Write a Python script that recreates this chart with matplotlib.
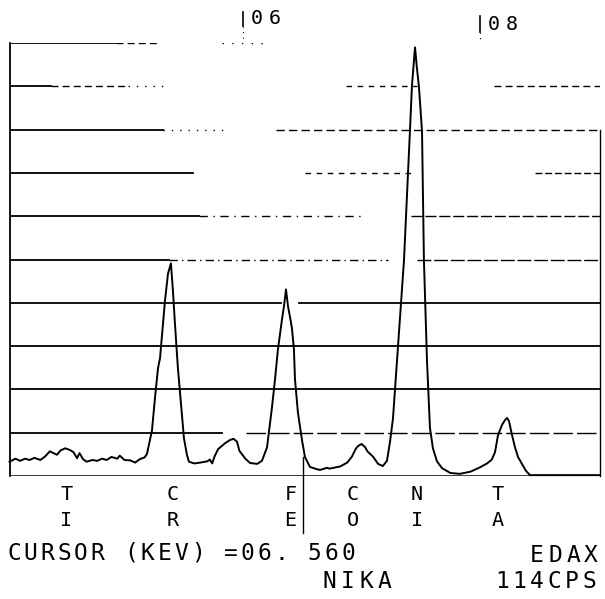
import numpy as np
import matplotlib
matplotlib.use('Agg')
from matplotlib import pyplot as plt
from matplotlib import transforms

W, H = 605, 599  # output size in px

# spectrum trace (keV, intensity in grid divisions)
energy_kev = [4.03, 4.08, 4.12, 4.16, 4.20, 4.24, 4.29, 4.33, 4.37, 4.40,
              4.43, 4.46, 4.50, 4.54, 4.57, 4.60, 4.62, 4.65, 4.68, 4.73,
              4.77, 4.81, 4.85, 4.89, 4.94, 4.96, 5.00, 5.05, 5.09, 5.13,
              5.17, 5.190, 5.232, 5.257, 5.283, 5.300, 5.325, 5.342, 5.367, 5.392,
              5.409, 5.426, 5.451, 5.485, 5.502, 5.527, 5.544, 5.59, 5.64, 5.70,
              5.72, 5.74, 5.76, 5.79, 5.82, 5.85, 5.89, 5.92, 5.95, 5.97,
              6.02, 6.06, 6.12, 6.160, 6.203, 6.245, 6.270, 6.295, 6.329, 6.346,
              6.363, 6.380, 6.405, 6.414, 6.430, 6.439, 6.464, 6.498, 6.523, 6.565,
              6.62, 6.65, 6.71, 6.73, 6.82, 6.88, 6.92, 6.95, 6.97, 7.00,
              7.03, 7.05, 7.10, 7.14, 7.18, 7.215, 7.241, 7.266, 7.300, 7.325,
              7.359, 7.384, 7.409, 7.426, 7.452, 7.468, 7.485, 7.511, 7.527, 7.553,
              7.578, 7.603, 7.637, 7.68, 7.75, 7.83, 7.92, 8.00, 8.06, 8.10,
              8.127, 8.152, 8.186, 8.211, 8.228, 8.245, 8.270, 8.295, 8.321, 8.354,
              8.388, 8.422, 9.01]
counts_div = [0.33, 0.40, 0.35, 0.40, 0.37, 0.42, 0.37, 0.45, 0.57, 0.53,
              0.49, 0.59, 0.64, 0.60, 0.55, 0.41, 0.53, 0.39, 0.33, 0.37,
              0.35, 0.40, 0.37, 0.44, 0.40, 0.47, 0.37, 0.36, 0.31, 0.39,
              0.43, 0.51, 1.05, 1.79, 2.49, 2.72, 3.51, 4.05, 4.67, 4.91,
              4.28, 3.52, 2.49, 1.42, 0.87, 0.49, 0.33, 0.29, 0.31, 0.34,
              0.38, 0.29, 0.45, 0.62, 0.69, 0.76, 0.83, 0.86, 0.79, 0.58,
              0.40, 0.30, 0.28, 0.35, 0.66, 1.59, 2.22, 2.92, 3.61, 3.92,
              4.31, 3.92, 3.55, 3.39, 2.93, 2.23, 1.46, 0.83, 0.44, 0.21,
              0.16, 0.14, 0.19, 0.17, 0.22, 0.31, 0.45, 0.62, 0.69, 0.74,
              0.67, 0.57, 0.44, 0.28, 0.23, 0.35, 0.79, 1.33, 2.65, 3.65,
              4.99, 6.45, 7.96, 9.01, 9.90, 9.42, 8.99, 7.96, 4.99, 2.66,
              1.11, 0.64, 0.34, 0.18, 0.07, 0.05, 0.10, 0.20, 0.29, 0.38,
              0.55, 0.94, 1.18, 1.29, 1.34, 1.27, 0.95, 0.67, 0.44, 0.28,
              0.12, 0.02, 0.02]

# element markers under the spectrum
line_kev = [4.51, 5.41, 6.40, 6.93, 7.47, 8.15]
line_top = ['T', 'C', 'F', 'C', 'N', 'T']
line_bot = ['I', 'R', 'E', 'O', 'I', 'A']

marker_kev = [6, 8]
marker_text = ['06', '08']
cursor_kev = 6.51
cursor_text = 'CURSOR (KEV) =06. 560'
n_div = 10

# dash layout of the horizontal grid (axes fractions), as plotted
grid_segments = {
    10: [(0.0, 0.18, '-'), (0.18, 0.25, (0, (5, 3))), (0.36, 0.44, (0, (1, 6)))],
    9: [(0.0, 0.07, '-'), (0.07, 0.20, (0, (5, 3))), (0.20, 0.26, (0, (1, 5))),
        (0.57, 0.69, (0, (4, 4))), (0.82, 1.0, (0, (5, 3)))],
    8: [(0.0, 0.26, '-'), (0.26, 0.37, (0, (1, 5))), (0.45, 1.0, (0, (6, 3)))],
    7: [(0.0, 0.31, '-'), (0.50, 0.68, (0, (4, 4))), (0.89, 1.0, (0, (5, 2)))],
    6: [(0.0, 0.32, '-'), (0.32, 0.60, (0, (6, 4, 1, 4))), (0.68, 1.0, (0, (8, 2)))],
    5: [(0.0, 0.27, '-'), (0.27, 0.64, (0, (6, 3, 1, 3))), (0.69, 1.0, (0, (10, 2)))],
    4: [(0.0, 0.46, '-'), (0.49, 1.0, '-')],
    3: [(0.0, 1.0, '-')],
    2: [(0.0, 1.0, '-')],
    1: [(0.0, 0.36, '-'), (0.40, 1.0, (0, (14, 3)))],
}

mono = 'DejaVu Sans Mono'


def spaced_text(fig, x_px, y_px, s, pitch, size):
    # plotter text: fixed pitch, one glyph at a time
    for i, ch in enumerate(s):
        if ch == ' ':
            continue
        fig.text((x_px + i * pitch) / W, 1 - y_px / H, ch, ha='center', va='center',
                 family=mono, fontsize=size, color='black')


fig = plt.figure(figsize=(W / 100, H / 100), dpi=100)
fig.patch.set_facecolor('white')
ax = fig.add_axes([10 / W, 1 - 476 / H, 590 / W, (476 - 43) / H])
ax.set_xlim(4.034, 9.013)
ax.set_ylim(0, n_div)
ax.axis('off')

# frame
x0, x1 = ax.get_xlim()
ax.plot([x0, x0], [0, n_div], color='black', lw=1.3, clip_on=False)
ax.plot([x1, x1], [0, 8], color='black', lw=1.0, clip_on=False)
ax.axhline(0, color='black', lw=1.8)

for lvl, segs in grid_segments.items():
    for f0, f1, ls in segs:
        ax.axhline(lvl, f0, f1, color='black', ls=ls, lw=1.3 if ls == '-' else 1.0)

# spectrum
ax.plot(energy_kev, counts_div, color='black', lw=1.4, clip_on=False)

blend = transforms.blended_transform_factory(ax.transData, fig.transFigure)

# energy markers on top
bar_px = [(12, 26), (16, 32)]
for e, txt, (ya, yb) in zip(marker_kev, marker_text, bar_px):
    ax.plot([e, e], [1 - ya / H, 1 - yb / H], color='black', lw=1.2,
            transform=blend, clip_on=False)
    ax.plot([e, e], [1 - yb / H, 1 - 42 / H], color='black', lw=0.8,
            ls=(0, (1, 4)), transform=blend, clip_on=False)
    xe = ax.transData.transform((e, 0))[0]
    spaced_text(fig, xe + 14, (ya + yb) / 2, txt, 18, 14.5)

# cursor
ax.plot([cursor_kev, cursor_kev], [1 - 457 / H, 1 - 533 / H], color='black',
        lw=1.0, transform=blend, clip_on=False)

# element labels
for e, a, b in zip(line_kev, line_top, line_bot):
    ax.text(e, 1 - 494 / H, a, transform=blend, ha='center', va='center',
            family=mono, fontsize=14.5)
    ax.text(e, 1 - 520 / H, b, transform=blend, ha='center', va='center',
            family=mono, fontsize=14.5)

spaced_text(fig, 14, 553, cursor_text, 16.7, 16.5)
spaced_text(fig, 537, 556, 'EDAX', 18, 16.5)
spaced_text(fig, 329, 582, 'NIKA', 18.5, 16.5)
spaced_text(fig, 502, 582, '114CPS', 17.5, 16.5)

fig.savefig('out.png', dpi=100)
